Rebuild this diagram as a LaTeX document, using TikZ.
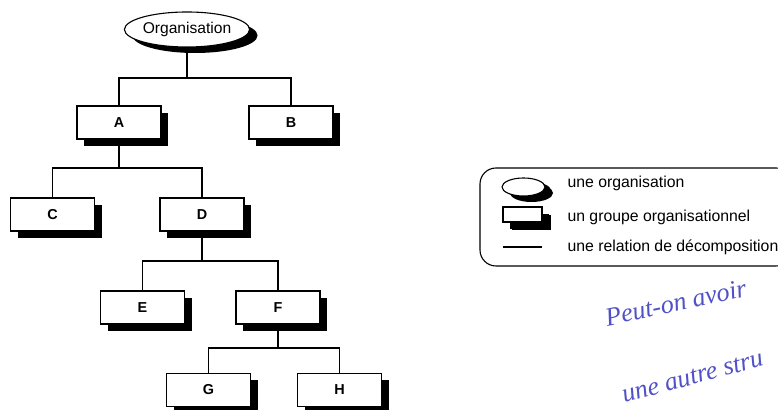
\documentclass[tikz,border=0pt]{standalone}
\usepackage{fontspec}
\setmainfont{Liberation Sans}
\newfontfamily\handfont{Liberation Serif}
\definecolor{inkblue}{RGB}{80,80,200}
\usetikzlibrary{shadows,shapes.geometric}

\begin{document}
\begin{tikzpicture}[x=0.5pt,y=-0.5pt,line width=0.55pt,
        blackshadow/.style={drop shadow={shadow xshift=3.5pt,shadow yshift=-3.3pt,
                            fill=black,opacity=1}},
        grpbox/.style={draw,fill=white,blackshadow,minimum width=42pt,
                       minimum height=16.5pt,inner sep=0pt,font=\bfseries\fontsize{7.2}{8}\selectfont},
        orgnode/.style={draw,ellipse,fill=white,
                        drop shadow={shadow xshift=4pt,shadow yshift=-3pt,fill=black,opacity=1},
                        minimum width=61pt,minimum height=17.5pt,inner sep=0pt,
                        font=\fontsize{7.8}{9}\selectfont},
        legtext/.style={anchor=west,inner sep=0pt,font=\fontsize{7.9}{9}\selectfont}]
        \clip (0,0) rectangle (778,410);
        \fill[white] (0,0) rectangle (778,410);
        % the tree
        \node[orgnode] (org) at (187,29.5) {Organisation};
        \node[grpbox] (A) at (119,122.5) {A};
        \node[grpbox] (B) at (291,122.5) {B};
        \node[grpbox] (C) at (52.5,214.5) {C};
        \node[grpbox] (D) at (202,214.5) {D};
        \node[grpbox] (E) at (142.5,307.5) {E};
        \node[grpbox] (F) at (278,307.5) {F};
        \node[grpbox] (G) at (208.5,390) {G};
        \node[grpbox] (H) at (339.5,390) {H};
        \coordinate (jorg) at (org.south |- 0,78);
        \coordinate (jA) at (A.south |- 0,168);
        \coordinate (jD) at (D.south |- 0,261);
        \coordinate (jF) at (F.south |- 0,348);
        \draw (org.south) -- (jorg); \draw (A.north) |- (jorg) -| (B.north);
        \draw (A.south) -- (jA); \draw (C.north) |- (jA) -| (D.north);
        \draw (D.south) -- (jD); \draw (E.north) |- (jD) -| (F.north);
        \draw (F.south) -- (jF); \draw (G.north) |- (jF) -| (H.north);
        % legend
        \draw[rounded corners=8pt] (480,168) rectangle (792,266);
        \node[orgnode,minimum width=21.5pt,minimum height=9pt,
              drop shadow={shadow xshift=3pt,shadow yshift=-1.8pt,fill=black,opacity=1}]
              (legorg) at (523.5,187) {};
        \node[grpbox,minimum width=19.5pt,minimum height=7.5pt,
              drop shadow={shadow xshift=4.5pt,shadow yshift=-4pt,fill=black,opacity=1}]
              (leggrp) at (522.5,214.5) {};
        \coordinate (linea) at (503,247);
        \coordinate (lineb) at (542,247);
        \draw (linea) -- (lineb);
        \node[legtext] (t1) at (567,183) {une organisation};
        \node[legtext] (t2) at (567,217) {un groupe organisationnel};
        \node[legtext] (t3) at (567,247) {une relation de décomposition};
        % handwritten note
        \node[inkblue,anchor=west,rotate=12,inner sep=0pt,
              font=\handfont\itshape\fontsize{13}{15}\selectfont] (note1) at (605,318) {Peut-on avoir};
        \node[inkblue,anchor=west,rotate=15,inner sep=0pt,
              font=\handfont\itshape\fontsize{13}{15}\selectfont] (note2) at (622,396) {une autre stru};
      \end{tikzpicture}
\end{document}
